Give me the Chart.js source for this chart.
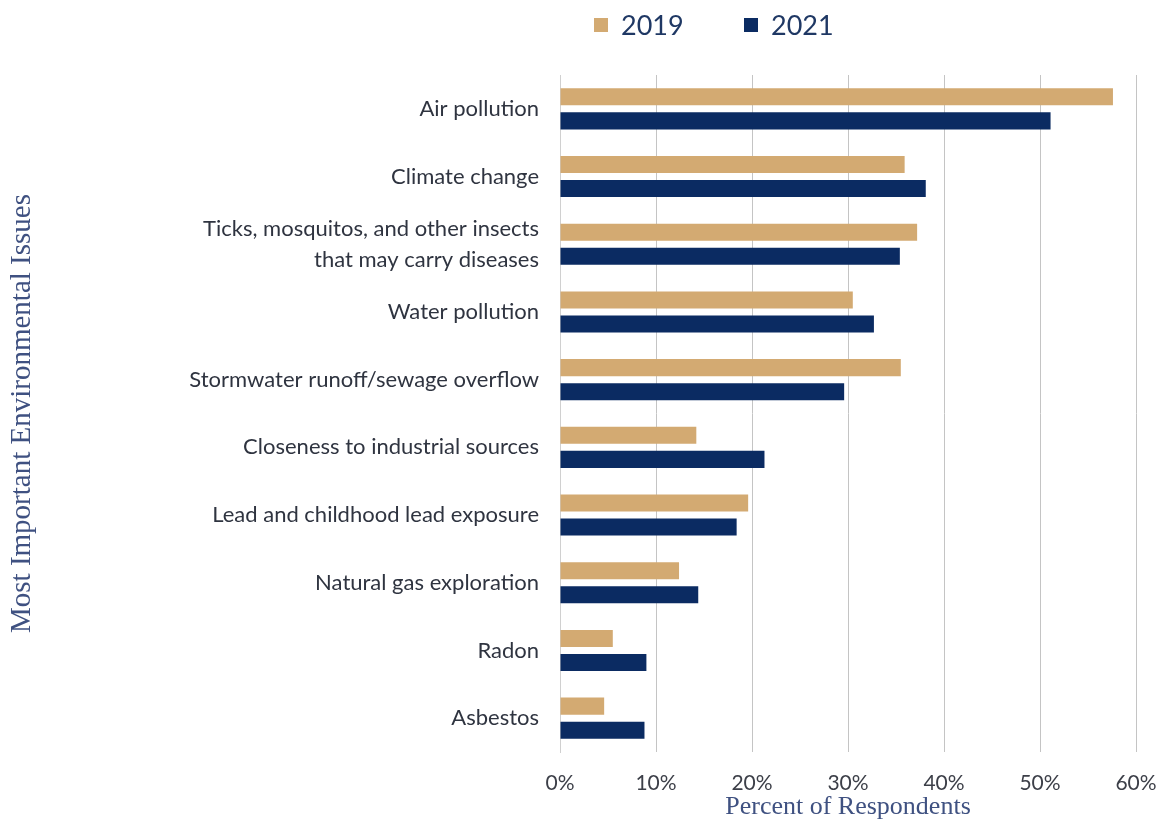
<!DOCTYPE html>
<html>
<head>
<meta charset="utf-8">
<script src="https://cdn.jsdelivr.net/npm/chart.js@4.4.1/dist/chart.umd.min.js"></script>
<style>
  html, body { margin: 0; padding: 0; background: #fff; }
  #wrap { width: 1159px; height: 824px; }
</style>
</head>
<body>
<div id="wrap"><canvas id="issuesChart" width="1159" height="824"></canvas></div>
<script>
const ctx = document.getElementById('issuesChart').getContext('2d');

// Issues, top to bottom
const issues = [
  'Air pollution',
  'Climate change',
  ['Ticks, mosquitos, and other insects', 'that may carry diseases'],
  'Water pollution',
  'Stormwater runoff/sewage overflow',
  'Closeness to industrial sources',
  'Lead and childhood lead exposure',
  'Natural gas exploration',
  'Radon',
  'Asbestos'
];

// Share of respondents (%)
const values2019 = [57.6, 35.9, 37.2, 30.5, 35.5, 14.2, 19.6, 12.4, 5.5, 4.6];
const values2021 = [51.1, 38.1, 35.4, 32.7, 29.6, 21.3, 18.4, 14.4, 9.0, 8.8];

const xTicks = [0, 10, 20, 30, 40, 50, 60];

const tan = '#d3aa72';
const navy = '#0b2b62';

const labelFont = 'Lato, "Open Sans", sans-serif';
const titleFont = '"Liberation Serif", "DejaVu Serif", serif';

// legend drawn above the plot, slightly left of centre
const topLegend = {
  id: 'topLegend',
  afterDraw(chart) {
    const c = chart.ctx;
    const items = chart.data.datasets;
    c.save();
    c.font = '27px ' + labelFont;
    c.textBaseline = 'middle';
    let x = 594;
    const y = 25;
    items.forEach(ds => {
      c.fillStyle = ds.backgroundColor;
      c.fillRect(x, y - 7, 14, 14);
      c.fillStyle = '#1f3864';
      c.fillText(ds.label, x + 27, y + 1);
      x += 150;
    });
    c.restore();
  }
};

new Chart(ctx, {
  type: 'bar',
  data: {
    labels: issues,
    datasets: [
      { label: '2019', data: values2019, backgroundColor: tan },
      { label: '2021', data: values2021, backgroundColor: navy }
    ]
  },
  options: {
    responsive: false,
    animation: false,
    indexAxis: 'y',
    layout: { padding: { top: 75, right: 23, bottom: 0, left: 0 } },
    datasets: {
      bar: { categoryPercentage: 0.71, barPercentage: 0.71 }
    },
    scales: {
      x: {
        min: 0,
        max: 60,
        afterBuildTicks: axis => { axis.ticks = xTicks.map(v => ({ value: v })); },
        afterFit: axis => {
          axis.height = 72;
          axis.paddingLeft = 0;
          axis.paddingRight = 0;
        },
        grid: { color: '#c4c4c4', lineWidth: 1, drawTicks: false },
        border: { display: false },
        ticks: {
          padding: 19,
          color: '#3c3f48',
          font: { family: labelFont, size: 21 },
          callback: v => v + '%'
        },
        title: {
          display: true,
          text: 'Percent of Respondents',
          color: '#3f5181',
          font: { family: titleFont, size: 26 },
          padding: { top: 0, bottom: 1 }
        }
      },
      y: {
        afterFit: axis => { axis.width = 560; },
        grid: { display: false, drawTicks: false },
        border: { display: true, color: '#d0d0d0' },
        ticks: {
          padding: 21,
          color: '#2f3440',
          font: { family: labelFont, size: 22, lineHeight: 1.4 }
        },
        title: {
          display: true,
          text: 'Most Important Environmental Issues',
          color: '#3f5181',
          font: { family: titleFont, size: 29 },
          padding: { top: 5, bottom: 0 }
        }
      }
    },
    plugins: {
      legend: { display: false },
      tooltip: { enabled: false }
    }
  },
  plugins: [topLegend]
});
</script>
</body>
</html>
